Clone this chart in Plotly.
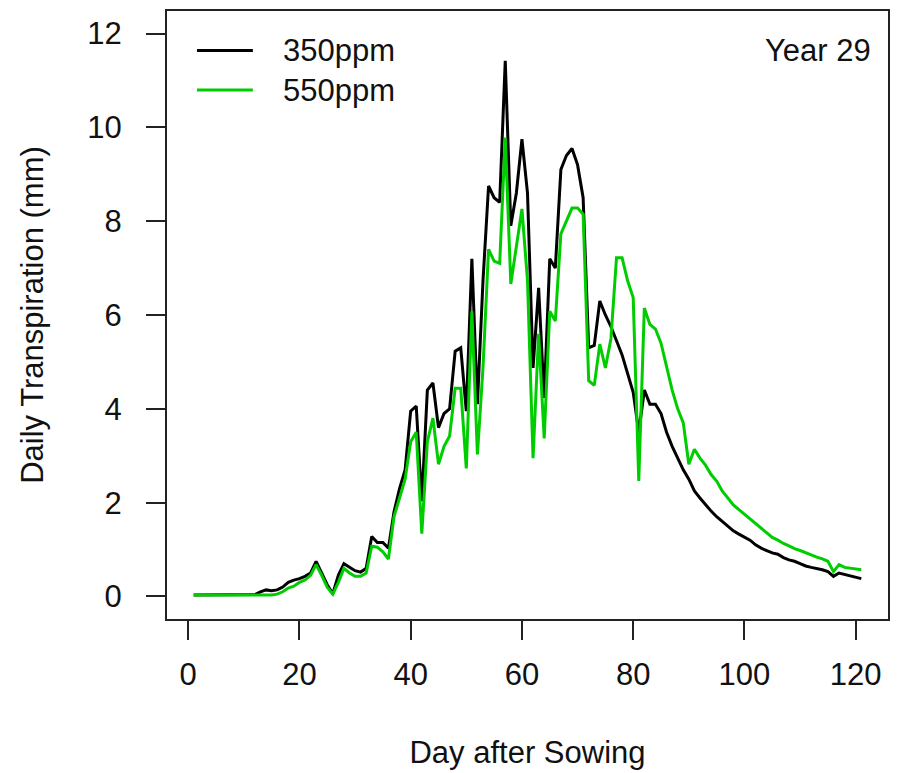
import plotly.graph_objects as go

days = list(range(1, 122))

t350 = [
    0.03, 0.03, 0.03, 0.03, 0.03, 0.03, 0.03, 0.03, 0.03, 0.03,   # 1-10
    0.03, 0.04, 0.10, 0.14, 0.12, 0.14, 0.20, 0.30, 0.35, 0.38,   # 11-20
    0.43, 0.50, 0.75, 0.50, 0.25, 0.06, 0.45, 0.70, 0.62, 0.55,   # 21-30
    0.52, 0.60, 1.28, 1.15, 1.15, 1.03, 1.80, 2.30, 2.70, 3.95,   # 31-40
    4.06, 2.03, 4.40, 4.55, 3.60, 3.90, 4.00, 5.23, 5.30, 3.95,   # 41-50
    7.20, 4.10, 6.73, 8.75, 8.50, 8.40, 11.42, 7.90, 8.60, 9.75,  # 51-60
    8.60, 4.87, 6.58, 4.23, 7.20, 7.00, 9.10, 9.40, 9.55, 9.20,   # 61-70
    8.50, 5.30, 5.35, 6.30, 6.00, 5.75, 5.45, 5.15, 4.75, 4.35,   # 71-80
    3.50, 4.40, 4.10, 4.10, 3.90, 3.50, 3.20, 2.95, 2.70, 2.50,   # 81-90
    2.25, 2.10, 1.95, 1.82, 1.70, 1.60, 1.50, 1.40, 1.33, 1.26,   # 91-100
    1.20, 1.10, 1.03, 0.98, 0.93, 0.90, 0.83, 0.78, 0.75, 0.70,   # 101-110
    0.65, 0.62, 0.60, 0.57, 0.53, 0.43, 0.50, 0.47, 0.45, 0.42,   # 111-120
    0.38,                                                         # 121
]

t550 = [
    0.03, 0.03, 0.03, 0.03, 0.03, 0.03, 0.03, 0.03, 0.03, 0.03,   # 1-10
    0.03, 0.03, 0.03, 0.03, 0.03, 0.05, 0.10, 0.18, 0.22, 0.30,   # 11-20
    0.35, 0.45, 0.68, 0.45, 0.20, 0.05, 0.30, 0.60, 0.50, 0.43,   # 21-30
    0.43, 0.50, 1.07, 1.05, 0.95, 0.80, 1.70, 2.10, 2.50, 3.30,   # 31-40
    3.50, 1.34, 3.30, 3.80, 2.82, 3.20, 3.42, 4.44, 4.44, 2.73,   # 41-50
    6.08, 3.03, 4.87, 7.40, 7.15, 7.10, 9.78, 6.66, 7.43, 8.26,   # 51-60
    6.73, 2.95, 5.60, 3.37, 6.08, 5.87, 7.73, 8.00, 8.28, 8.28,   # 61-70
    8.15, 4.60, 4.50, 5.38, 4.87, 5.50, 7.22, 7.22, 6.73, 6.37,   # 71-80
    2.46, 6.15, 5.80, 5.70, 5.40, 4.90, 4.40, 4.00, 3.70, 2.82,   # 81-90
    3.14, 2.95, 2.80, 2.60, 2.46, 2.25, 2.10, 1.95, 1.85, 1.75,   # 91-100
    1.67, 1.55, 1.45, 1.35, 1.26, 1.20, 1.13, 1.08, 1.02, 0.98,   # 101-110
    0.93, 0.88, 0.84, 0.80, 0.75, 0.53, 0.68, 0.62, 0.60, 0.58,   # 111-120
    0.57,                                                         # 121
]

series_names = ["350ppm", "550ppm"]
series_colors = ["#000000", "#00CD00"]
x_ticks = [0, 20, 40, 60, 80, 100, 120]
y_ticks = [0, 2, 4, 6, 8, 10, 12]
panel_label = "Year 29"
x_title = "Day after Sowing"
y_title = "Daily Transpiration (mm)"

FONT = "Arial, 'Liberation Sans', sans-serif"
FS = 31

fig = go.Figure()
for name, vals, col in zip(series_names, [t350, t550], series_colors):
    fig.add_trace(go.Scatter(x=days, y=vals, mode="lines", name=name,
                             line=dict(color=col, width=3), showlegend=False))

# manual legend (R-style, no box)
legend_y = [0.935, 0.87]
for name, col, ly in zip(series_names, series_colors, legend_y):
    fig.add_shape(type="line", xref="paper", yref="paper",
                  x0=(197 - 167) / 722, x1=(253 - 167) / 722, y0=ly, y1=ly,
                  line=dict(color=col, width=3))
    fig.add_annotation(xref="paper", yref="paper", x=(281 - 167) / 722, y=ly,
                       text=name, showarrow=False, xanchor="left", yanchor="middle",
                       font=dict(family=FONT, size=FS, color="#111"))

fig.add_annotation(xref="paper", yref="paper", x=(874 - 167) / 722, y=0.935,
                   text=panel_label, showarrow=False, xanchor="right", yanchor="middle",
                   font=dict(family=FONT, size=FS, color="#111"))

axis_common = dict(showline=True, linecolor="#222", linewidth=2, mirror=True,
                   ticks="outside", ticklen=19, tickwidth=2, tickcolor="#222",
                   showgrid=False, zeroline=False,
                   tickfont=dict(family=FONT, size=FS, color="#111"))

fig.update_xaxes(range=[-3.8, 125.8], tickvals=x_ticks, ticklabelstandoff=8,
                 title=dict(text=x_title, standoff=50,
                            font=dict(family=FONT, size=FS, color="#111")),
                 **axis_common)
fig.update_yaxes(range=[-0.48, 12.48], tickvals=y_ticks, ticklabelstandoff=18,
                 title=dict(text=y_title, standoff=34,
                            font=dict(family=FONT, size=FS, color="#111")),
                 **axis_common)

fig.update_layout(width=899, height=773,
                  margin=dict(l=167, r=10, t=9, b=153),
                  paper_bgcolor="white", plot_bgcolor="white",
                  showlegend=False)

fig.write_html("out.html")
